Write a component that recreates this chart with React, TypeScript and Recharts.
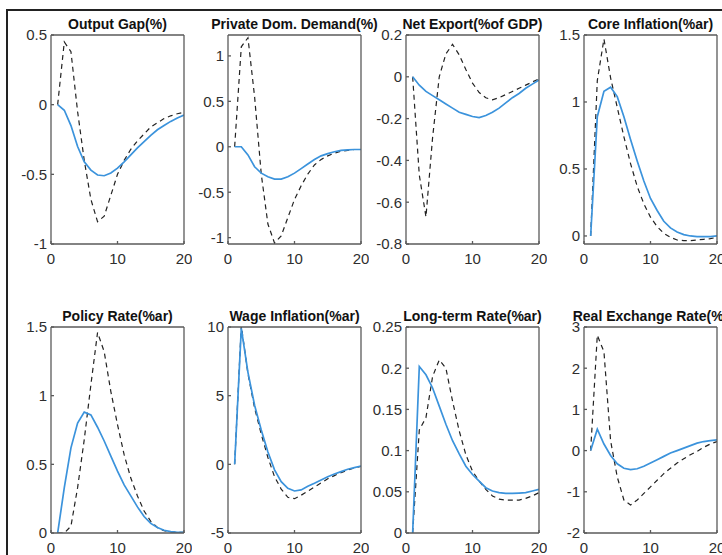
import React from 'react';
import { LineChart, Line, XAxis, YAxis } from 'recharts';

const quarters = [1, 2, 3, 4, 5, 6, 7, 8, 9, 10, 11, 12, 13, 14, 15, 16, 17, 18, 19, 20];
const xTicks = [0, 10, 20];

const outputGapSolid = [0, -0.04, -0.15, -0.3, -0.41, -0.47, -0.505, -0.51, -0.49, -0.455, -0.41, -0.36, -0.31, -0.265, -0.22, -0.18, -0.15, -0.12, -0.095, -0.075];
const outputGapDashed = [0, 0.45, 0.38, -0.05, -0.4, -0.68, -0.84, -0.8, -0.65, -0.5, -0.4, -0.32, -0.26, -0.21, -0.16, -0.13, -0.1, -0.08, -0.065, -0.055];
const outputGapTicks = [-1, -0.5, 0, 0.5];

const demandSolid = [0, 0, -0.09, -0.22, -0.29, -0.33, -0.355, -0.355, -0.33, -0.29, -0.24, -0.19, -0.14, -0.1, -0.075, -0.055, -0.04, -0.035, -0.03, -0.03];
const demandDashed = [0, 1.1, 1.2, 0.55, -0.3, -0.85, -1.06, -0.98, -0.78, -0.58, -0.43, -0.3, -0.2, -0.14, -0.1, -0.07, -0.05, -0.04, -0.03, -0.03];
const demandTicks = [-1, -0.5, 0, 0.5, 1];

const netExportSolid = [0, -0.04, -0.07, -0.09, -0.11, -0.13, -0.15, -0.17, -0.18, -0.19, -0.195, -0.185, -0.17, -0.15, -0.125, -0.1, -0.08, -0.055, -0.035, -0.015];
const netExportDashed = [0, -0.47, -0.67, -0.29, 0.0, 0.11, 0.155, 0.105, 0.035, -0.03, -0.075, -0.1, -0.11, -0.1, -0.085, -0.07, -0.055, -0.04, -0.025, -0.01];
const netExportTicks = [-0.8, -0.6, -0.4, -0.2, 0, 0.2];

const coreInflSolid = [0, 0.89, 1.08, 1.11, 1.04, 0.89, 0.72, 0.56, 0.41, 0.28, 0.19, 0.11, 0.06, 0.03, 0.01, 0, -0.005, -0.005, -0.005, 0];
const coreInflDashed = [0, 1.16, 1.47, 1.18, 0.96, 0.74, 0.54, 0.37, 0.24, 0.14, 0.07, 0.02, -0.01, -0.03, -0.035, -0.035, -0.03, -0.025, -0.02, -0.01];
const coreInflTicks = [0, 0.5, 1, 1.5];

const policySolid = [0, 0.33, 0.62, 0.8, 0.88, 0.86, 0.77, 0.67, 0.56, 0.45, 0.35, 0.27, 0.19, 0.12, 0.07, 0.04, 0.02, 0.01, 0.005, 0.005];
const policyDashed = [0, 0, 0.05, 0.33, 0.68, 1.08, 1.46, 1.32, 1.03, 0.79, 0.57, 0.4, 0.27, 0.16, 0.085, 0.04, 0.017, 0.008, 0.005, 0.005];
const policyTicks = [0, 0.5, 1, 1.5];

const wageSolid = [0, 9.9, 6.7, 4.3, 2.5, 0.9, -0.4, -1.26, -1.74, -1.94, -1.86, -1.6, -1.38, -1.14, -0.9, -0.7, -0.53, -0.36, -0.24, -0.12];
const wageDashed = [0, 10.1, 6.6, 4.1, 2.2, 0.5, -0.9, -1.8, -2.4, -2.5, -2.25, -1.95, -1.65, -1.35, -1.05, -0.82, -0.6, -0.42, -0.27, -0.15];
const wageTicks = [-5, 0, 5, 10];

const longRateSolid = [0, 0.202, 0.192, 0.176, 0.154, 0.132, 0.112, 0.096, 0.081, 0.071, 0.063, 0.055, 0.051, 0.049, 0.048, 0.048, 0.0485, 0.049, 0.051, 0.053];
const longRateDashed = [0, 0.125, 0.14, 0.19, 0.21, 0.2, 0.16, 0.124, 0.095, 0.075, 0.063, 0.053, 0.045, 0.041, 0.04, 0.04, 0.04, 0.042, 0.045, 0.049];
const longRateTicks = [0, 0.05, 0.1, 0.15, 0.2, 0.25];

const rerSolid = [0, 0.52, 0.16, -0.12, -0.32, -0.43, -0.46, -0.44, -0.38, -0.3, -0.22, -0.14, -0.06, 0, 0.06, 0.12, 0.18, 0.22, 0.24, 0.26];
const rerDashed = [0, 2.8, 2.4, 0.24, -0.64, -1.2, -1.32, -1.2, -1.04, -0.88, -0.72, -0.56, -0.43, -0.3, -0.2, -0.1, -0.02, 0.08, 0.16, 0.22];
const rerTicks = [-2, -1, 0, 1, 2, 3];

const FONT = '"Liberation Sans", Arial, Helvetica, sans-serif';
const AXIS = '#5a5a5a';
const BLUE = '#3b93dc';

type PanelProps = {
  title: string;
  solid: number[];
  dashed: number[];
  domain: [number, number];
  ticks: number[];
  boxLeft: number;
  boxTop: number;
  boxW: number;
  boxH: number;
};

function Panel({ title, solid, dashed, domain, ticks, boxLeft, boxTop, boxW, boxH }: PanelProps) {
  const data = quarters.map((t, i) => ({ t, solid: solid[i], dashed: dashed[i] }));
  const L = 60;
  const T = 14;
  const B = 30;
  const R = 8;
  const tickStyle = { fontSize: 15, fill: '#2e2e2e', fontFamily: FONT };
  return (
    <>
      <div
        style={{
          position: 'absolute',
          left: boxLeft + boxW / 2,
          top: boxTop - 18,
          transform: 'translateX(-50%)',
          whiteSpace: 'nowrap',
          fontFamily: FONT,
          fontWeight: 'bold',
          fontSize: 14,
          lineHeight: '14px',
          color: '#111',
        }}
      >
        {title}
      </div>
      <div style={{ position: 'absolute', left: boxLeft - L, top: boxTop - T }}>
        <LineChart
          width={L + boxW + R}
          height={T + boxH + B}
          data={data}
          margin={{ top: T - 1, right: R - 1, bottom: 0, left: 0 }}
        >
          <XAxis
            xAxisId="b"
            dataKey="t"
            type="number"
            domain={[0, 20]}
            ticks={xTicks}
            allowDataOverflow
            height={B}
            stroke={AXIS}
            strokeWidth={1.3}
            tickSize={-3}
            tickMargin={12}
            tick={tickStyle}
          />
          <XAxis
            xAxisId="top"
            orientation="top"
            dataKey="t"
            type="number"
            domain={[0, 20]}
            ticks={xTicks}
            allowDataOverflow
            height={1}
            stroke={AXIS}
            strokeWidth={1.3}
            tickSize={-3}
            tick={false}
          />
          <YAxis
            yAxisId="l"
            type="number"
            domain={domain}
            ticks={ticks}
            allowDataOverflow
            width={L}
            stroke={AXIS}
            strokeWidth={1.3}
            tickSize={-3}
            tickMargin={7}
            tick={tickStyle}
            interval={0}
          />
          <YAxis
            yAxisId="r"
            orientation="right"
            type="number"
            domain={domain}
            ticks={ticks}
            allowDataOverflow
            width={1}
            stroke={AXIS}
            strokeWidth={1.3}
            tickSize={-3}
            tick={false}
            interval={0}
          />
          <Line
            xAxisId="b"
            yAxisId="l"
            type="linear"
            dataKey="dashed"
            stroke="#222"
            strokeWidth={1.2}
            strokeDasharray="5 4"
            dot={false}
            isAnimationActive={false}
          />
          <Line
            xAxisId="b"
            yAxisId="l"
            type="linear"
            dataKey="solid"
            stroke={BLUE}
            strokeWidth={1.7}
            dot={false}
            isAnimationActive={false}
          />
        </LineChart>
      </div>
    </>
  );
}

const colLefts = [51, 228, 406, 584];
const BOX_W = 133;
const ROW1_TOP = 35;
const ROW1_H = 209;
const ROW2_TOP = 327;
const ROW2_H = 206;

export default function App() {
  return (
    <div
      style={{
        position: 'absolute',
        left: 0,
        top: 0,
        width: 722,
        height: 555,
        overflow: 'hidden',
        background: '#fff',
        fontFamily: FONT,
      }}
    >
      <div style={{ position: 'absolute', left: 6, top: 9, width: 716, height: 2, background: '#222' }} />
      <div style={{ position: 'absolute', left: 6, top: 9, width: 2, height: 546, background: '#222' }} />
      <Panel title="Output Gap(%)" solid={outputGapSolid} dashed={outputGapDashed} domain={[-1, 0.5]} ticks={outputGapTicks} boxLeft={colLefts[0]} boxTop={ROW1_TOP} boxW={BOX_W} boxH={ROW1_H} />
      <Panel title="Private Dom. Demand(%)" solid={demandSolid} dashed={demandDashed} domain={[-1.07, 1.23]} ticks={demandTicks} boxLeft={colLefts[1]} boxTop={ROW1_TOP} boxW={BOX_W} boxH={ROW1_H} />
      <Panel title="Net Export(%of GDP)" solid={netExportSolid} dashed={netExportDashed} domain={[-0.8, 0.2]} ticks={netExportTicks} boxLeft={colLefts[2]} boxTop={ROW1_TOP} boxW={BOX_W} boxH={ROW1_H} />
      <Panel title="Core Inflation(%ar)" solid={coreInflSolid} dashed={coreInflDashed} domain={[-0.06, 1.5]} ticks={coreInflTicks} boxLeft={colLefts[3]} boxTop={ROW1_TOP} boxW={BOX_W} boxH={ROW1_H} />
      <Panel title="Policy Rate(%ar)" solid={policySolid} dashed={policyDashed} domain={[0, 1.5]} ticks={policyTicks} boxLeft={colLefts[0]} boxTop={ROW2_TOP} boxW={BOX_W} boxH={ROW2_H} />
      <Panel title="Wage Inflation(%ar)" solid={wageSolid} dashed={wageDashed} domain={[-5, 10]} ticks={wageTicks} boxLeft={colLefts[1]} boxTop={ROW2_TOP} boxW={BOX_W} boxH={ROW2_H} />
      <Panel title="Long-term Rate(%ar)" solid={longRateSolid} dashed={longRateDashed} domain={[0, 0.25]} ticks={longRateTicks} boxLeft={colLefts[2]} boxTop={ROW2_TOP} boxW={BOX_W} boxH={ROW2_H} />
      <Panel title="Real Exchange Rate(%)" solid={rerSolid} dashed={rerDashed} domain={[-2, 3]} ticks={rerTicks} boxLeft={colLefts[3]} boxTop={ROW2_TOP} boxW={BOX_W} boxH={ROW2_H} />
    </div>
  );
}
